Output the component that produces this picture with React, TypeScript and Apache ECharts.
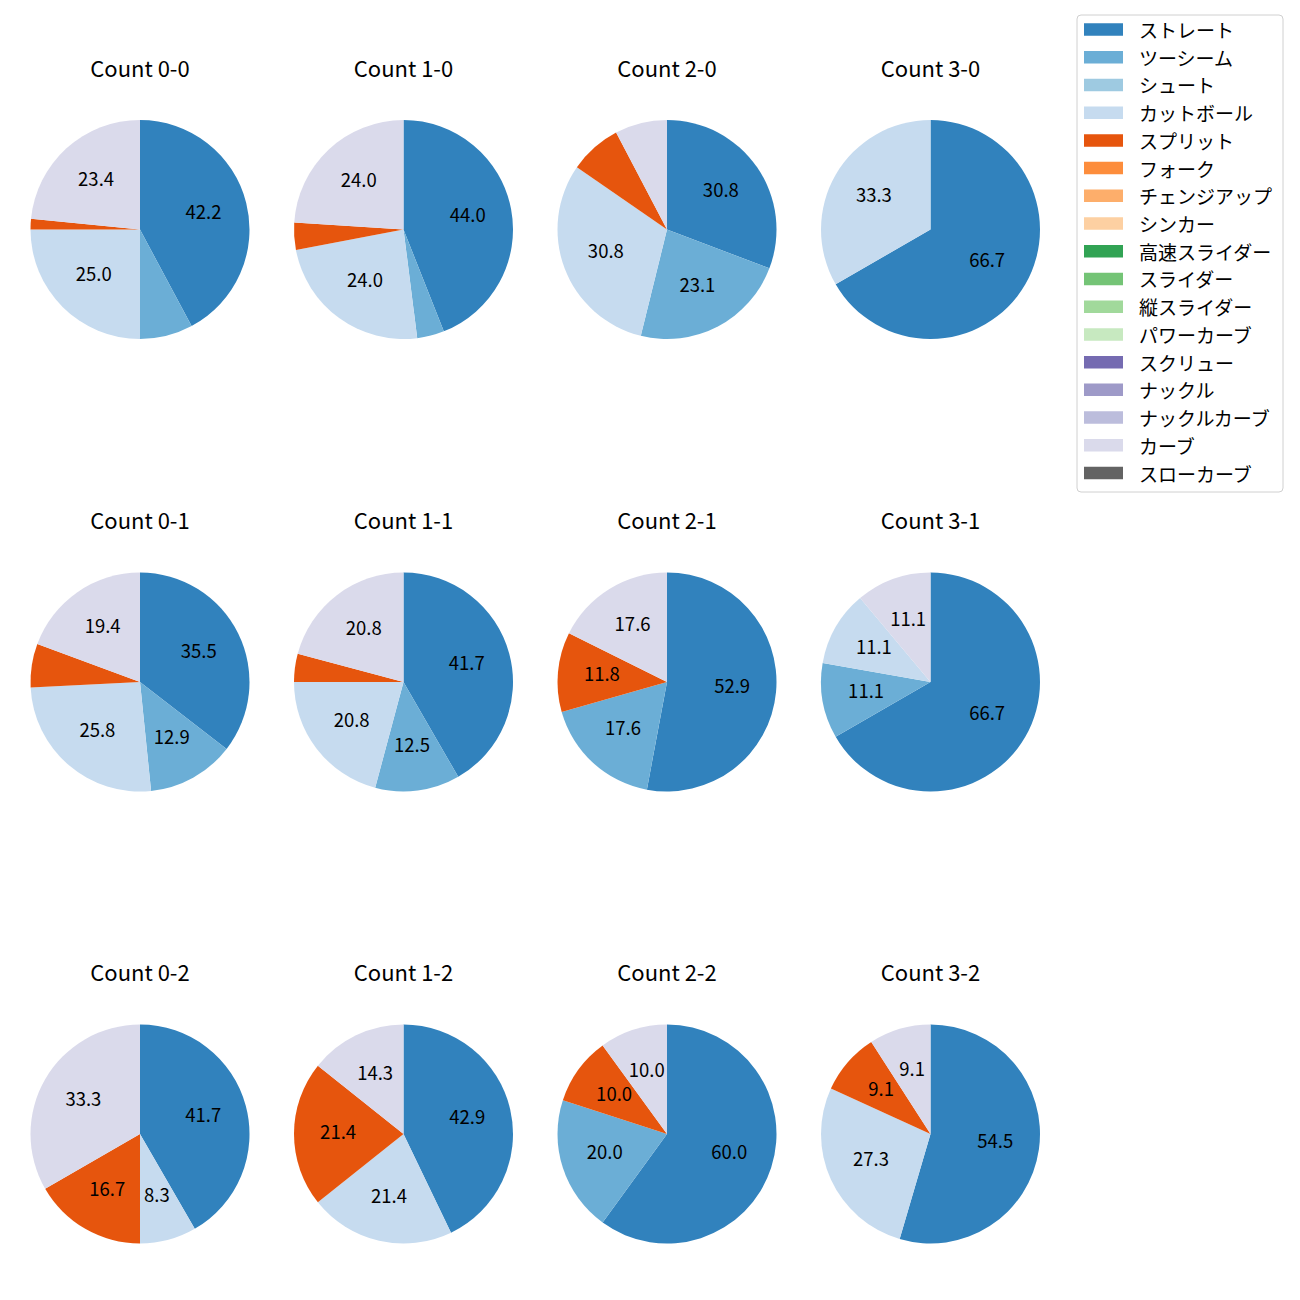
import React, { useEffect, useRef } from "react";
import * as echarts from "echarts";

const pitchTypes = [
  "ストレート", "ツーシーム", "シュート", "カットボール", "スプリット", "フォーク",
  "チェンジアップ", "シンカー", "高速スライダー", "スライダー", "縦スライダー",
  "パワーカーブ", "スクリュー", "ナックル", "ナックルカーブ", "カーブ", "スローカーブ",
];
const pitchColors = [
  "#3182bd", "#6baed6", "#9ecae1", "#c6dbef", "#e6550d", "#fd8d3c",
  "#fdae6b", "#fdd0a2", "#31a354", "#74c476", "#a1d99b", "#c7e9c0",
  "#756bb1", "#9e9ac8", "#bcbddc", "#dadaeb", "#636363",
];

const panelTitles = [
  "Count 0-0", "Count 1-0", "Count 2-0", "Count 3-0",
  "Count 0-1", "Count 1-1", "Count 2-1", "Count 3-1",
  "Count 0-2", "Count 1-2", "Count 2-2", "Count 3-2",
];

// pitch counts per panel, in the order of pitchTypes
const count00 = [27, 5, 0, 16, 1, 0, 0, 0, 0, 0, 0, 0, 0, 0, 0, 15, 0];
const count10 = [11, 1, 0, 6, 1, 0, 0, 0, 0, 0, 0, 0, 0, 0, 0, 6, 0];
const count20 = [4, 3, 0, 4, 1, 0, 0, 0, 0, 0, 0, 0, 0, 0, 0, 1, 0];
const count30 = [2, 0, 0, 1, 0, 0, 0, 0, 0, 0, 0, 0, 0, 0, 0, 0, 0];
const count01 = [11, 4, 0, 8, 2, 0, 0, 0, 0, 0, 0, 0, 0, 0, 0, 6, 0];
const count11 = [10, 3, 0, 5, 1, 0, 0, 0, 0, 0, 0, 0, 0, 0, 0, 5, 0];
const count21 = [9, 3, 0, 0, 2, 0, 0, 0, 0, 0, 0, 0, 0, 0, 0, 3, 0];
const count31 = [6, 1, 0, 1, 0, 0, 0, 0, 0, 0, 0, 0, 0, 0, 0, 1, 0];
const count02 = [5, 0, 0, 1, 2, 0, 0, 0, 0, 0, 0, 0, 0, 0, 0, 4, 0];
const count12 = [6, 0, 0, 3, 3, 0, 0, 0, 0, 0, 0, 0, 0, 0, 0, 2, 0];
const count22 = [6, 2, 0, 0, 1, 0, 0, 0, 0, 0, 0, 0, 0, 0, 0, 1, 0];
const count32 = [6, 0, 0, 3, 1, 0, 0, 0, 0, 0, 0, 0, 0, 0, 0, 1, 0];

const panelCounts = [
  count00, count10, count20, count30,
  count01, count11, count21, count31,
  count02, count12, count22, count32,
];

const FONT = "'Noto Sans CJK JP', 'Noto Sans', sans-serif";

export default function App() {
  const ref = useRef<HTMLDivElement>(null);

  useEffect(() => {
    if (!ref.current) return;
    const chart = echarts.init(ref.current, undefined, { renderer: "svg" });

    const colX = [140, 403.5, 667, 930.5];
    const rowY = [229.5, 682, 1134];
    const titleY = [69, 521, 973];
    const R = 109.5;

    const series: any[] = [];
    // hidden series so that the legend lists every pitch type
    series.push({
      type: "pie",
      center: [-500, -500],
      radius: [0, 1],
      silent: true,
      label: { show: false },
      labelLine: { show: false },
      data: pitchTypes.map((n, i) => ({ name: n, value: 1, itemStyle: { color: pitchColors[i] } })),
    });

    const titles: any[] = [];

    panelCounts.forEach((counts, p) => {
      const cx = colX[p % 4];
      const cy = rowY[Math.floor(p / 4)];
      const total = counts.reduce((a, b) => a + b, 0);
      const items = pitchTypes
        .map((n, i) => ({ name: n, value: counts[i], itemStyle: { color: pitchColors[i] } }))
        .filter((d) => d.value > 0);
      series.push({
        type: "pie",
        center: [cx, cy],
        radius: [0, R],
        startAngle: 90,
        clockwise: true,
        silent: true,
        label: { show: false },
        labelLine: { show: false },
        itemStyle: { borderWidth: 0 },
        emphasis: { disabled: true },
        data: items,
      });
      // transparent companion pie that only carries the percentage labels
      series.push({
        type: "pie",
        center: [cx, cy - 3],
        radius: [0.14 * R, R],
        startAngle: 90,
        clockwise: true,
        silent: true,
        labelLine: { show: false },
        emphasis: { disabled: true },
        label: {
          show: true,
          position: "inside",
          color: "#000",
          fontSize: 18.5,
          fontFamily: FONT,
          formatter: (prm: any) => {
            const pct = (prm.value / total) * 100;
            return pct >= 8 ? pct.toFixed(1) : "";
          },
        },
        data: items.map((d) => ({ name: d.name, value: d.value, itemStyle: { color: "rgba(0,0,0,0)" } })),
      });
      titles.push({
        text: panelTitles[p],
        left: cx,
        top: titleY[Math.floor(p / 4)] - 14,
        textAlign: "center",
        padding: 0,
        textStyle: { fontSize: 22, fontWeight: "normal", color: "#000", fontFamily: FONT, lineHeight: 24 },
      });
    });

    chart.setOption({
      animation: false,
      backgroundColor: "#fff",
      title: titles,
      legend: {
        orient: "vertical",
        left: 1084,
        top: 19.5,
        padding: 0,
        itemWidth: 39,
        itemHeight: 12.5,
        itemGap: 7.72,
        icon: "rect",
        selectedMode: false,
        data: pitchTypes,
        textStyle: {
          fontSize: 19,
          lineHeight: 20,
          color: "#000",
          fontFamily: FONT,
          padding: [0, 0, 0, 11],
        },
      },
      graphic: [
        {
          type: "rect",
          shape: { x: 1077, y: 15, width: 206, height: 477, r: 4 },
          style: { fill: "#fff", stroke: "#d0d0d0", lineWidth: 1 },
          z: -1,
        },
      ],
      series,
    });

    return () => chart.dispose();
  }, []);

  return <div ref={ref} style={{ position: "fixed", left: 0, top: 0, width: 1300, height: 1300 }} />;
}
